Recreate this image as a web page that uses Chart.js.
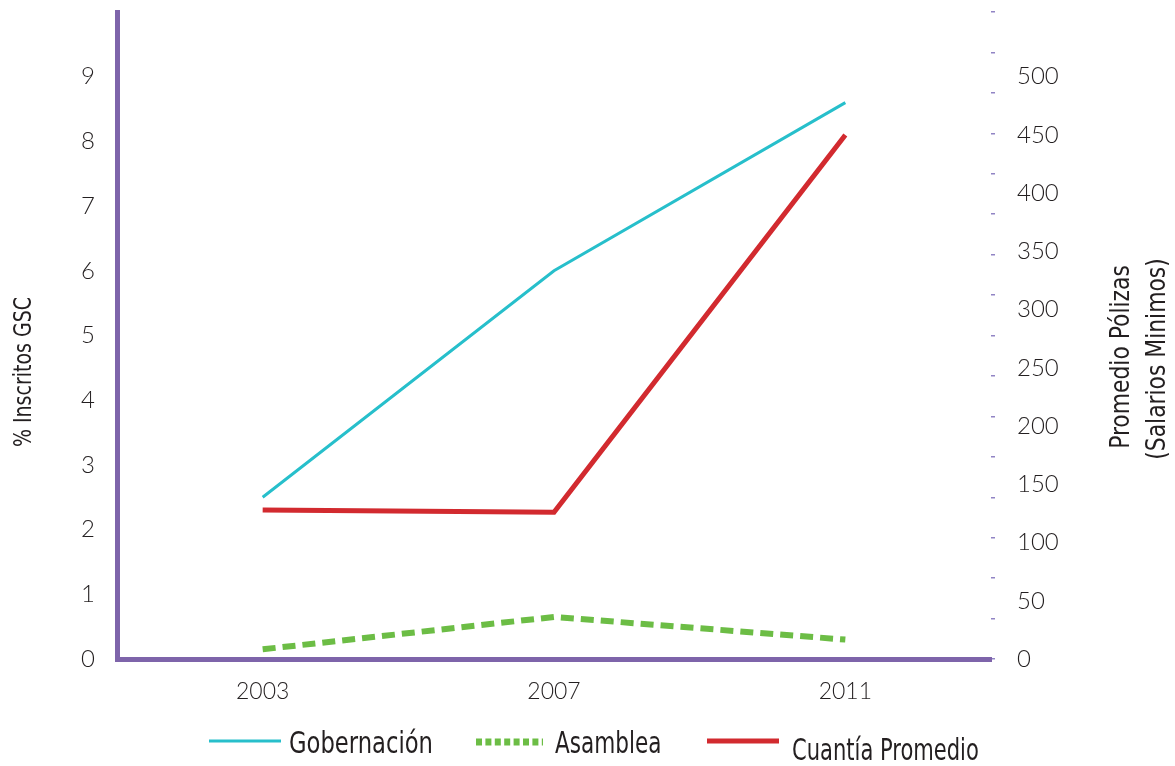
<!DOCTYPE html>
<html>
<head>
<meta charset="utf-8">
<script src="https://cdn.jsdelivr.net/npm/chart.js@4/dist/chart.umd.min.js"></script>
<style>
  html, body { margin: 0; padding: 0; background: #ffffff; }
  #wrap { width: 1175px; height: 766px; position: relative; }
</style>
</head>
<body>
<div id="wrap"><canvas id="c" width="1175" height="766"></canvas></div>
<script>
// ---- data ----
const years = ['2003', '2007', '2011'];
const gobernacion = [2.5, 6.0, 8.6];          // % inscritos (left axis)
const asamblea = [0.15, 0.65, 0.3];           // % inscritos (left axis)
const cuantiaPromedio = [128, 126, 450];      // salarios mínimos (right axis)
const seriesNames = ['Gobernación', 'Asamblea', 'Cuantía Promedio'];
const leftTitle = '% Inscritos GSC';
const rightTitle = ['Promedio Pólizas', '(Salarios Minimos)'];
const leftMax = 10;                 // left scale 0..10, labels 0..9
const rightLabelMax = 500;          // right labels 0..500 line up with left 0..9
const rightStep = 50;

// ---- styles ----
const PURPLE = '#7e64aa';
const MARK = '#9184c4';
const CYAN = '#27bfcb';
const GREEN = '#6cbd45';
const RED = '#d22a2f';
const INK = '#231f20';
const THIN = 'Lato, "Open Sans", sans-serif';
const COND = '"Liberation Sans Narrow", "DejaVu Sans Condensed", "Open Sans", sans-serif';

// draw text squeezed horizontally (along its own baseline)
function squeezed(ctx, text, x, y, sx, rot) {
  ctx.save();
  ctx.translate(x, y);
  if (rot) ctx.rotate(rot);
  ctx.scale(sx, 1);
  ctx.fillText(text, 0, 0);
  ctx.restore();
}

// titles and legend drawn on the canvas
const decorations = {
  id: 'decorations',
  afterDraw(chart) {
    const ctx = chart.ctx;
    ctx.save();
    ctx.fillStyle = INK;
    ctx.textAlign = 'center';
    ctx.textBaseline = 'middle';

    // left axis title
    ctx.font = '24px ' + COND;
    squeezed(ctx, leftTitle, 25, 372, 0.88, -Math.PI / 2);

    // right axis title, two lines reading upward
    ctx.font = '27px ' + COND;
    squeezed(ctx, rightTitle[0], 1122, 357, 0.9, -Math.PI / 2);
    squeezed(ctx, rightTitle[1], 1158, 359, 0.9, -Math.PI / 2);

    // legend
    const ds = chart.data.datasets;
    const items = [
      { x1: 209, x2: 281, y: 741, tx: 289, ty: 753, w: 3, dash: [], sx: 0.84 },
      { x1: 476, x2: 543, y: 742, tx: 555, ty: 753, w: 7, dash: [6, 3.4], sx: 0.8 },
      { x1: 707, x2: 779, y: 741, tx: 792, ty: 760, w: 5, dash: [], sx: 0.78 }
    ];
    ctx.font = '30px ' + COND;
    ctx.textAlign = 'left';
    ctx.textBaseline = 'alphabetic';
    items.forEach((it, i) => {
      ctx.save();
      ctx.strokeStyle = ds[i].borderColor;
      ctx.lineWidth = it.w;
      ctx.lineCap = 'butt';
      ctx.setLineDash(it.dash);
      ctx.beginPath();
      ctx.moveTo(it.x1, it.y);
      ctx.lineTo(it.x2, it.y);
      ctx.stroke();
      ctx.restore();
      ctx.fillStyle = INK;
      squeezed(ctx, ds[i].label, it.tx, it.ty, it.sx, 0);
    });
    ctx.restore();
  }
};

// keep the plot area fixed: no extra room for overhanging tick labels
function noOverhang(s) {
  s.paddingTop = 0;
  s.paddingBottom = 0;
  s.paddingLeft = 0;
  s.paddingRight = 0;
}

new Chart(document.getElementById('c'), {
  type: 'line',
  data: {
    labels: years,
    datasets: [
      { label: seriesNames[0], data: gobernacion, yAxisID: 'y',
        borderColor: CYAN, borderWidth: 3, pointRadius: 0, tension: 0 },
      { label: seriesNames[1], data: asamblea, yAxisID: 'y',
        borderColor: GREEN, borderWidth: 6, borderDash: [13, 7], pointRadius: 0, tension: 0 },
      { label: seriesNames[2], data: cuantiaPromedio, yAxisID: 'y2',
        borderColor: RED, borderWidth: 5, pointRadius: 0, tension: 0 }
    ]
  },
  options: {
    responsive: false,
    animation: false,
    devicePixelRatio: 1,
    layout: { padding: { top: 12, left: 0, right: 0, bottom: 0 } },
    plugins: { legend: { display: false }, tooltip: { enabled: false } },
    scales: {
      x: {
        type: 'category',
        offset: true,
        grid: { display: false, drawTicks: false },
        border: { display: true, color: PURPLE, width: 5 },
        ticks: { color: INK, font: { family: THIN, size: 23, weight: 300 }, padding: 19 },
        afterFit(s) { s.height = 107; noOverhang(s); }
      },
      y: {
        position: 'left',
        min: 0, max: leftMax,
        grid: { display: false, drawTicks: false },
        border: { display: true, color: PURPLE, width: 5 },
        ticks: {
          stepSize: 1,
          color: INK,
          font: { family: THIN, size: 24, weight: 300 },
          padding: 22,
          callback: v => (v < leftMax ? String(v) : '')
        },
        afterFit(s) { s.width = 117; noOverhang(s); }
      },
      marks: {
        position: 'right',
        weight: 0,
        min: 0, max: 16,
        grid: { display: true, drawOnChartArea: false, drawTicks: true, tickLength: 4, color: MARK, lineWidth: 1.5 },
        border: { display: false },
        ticks: { display: false, stepSize: 1 },
        afterFit(s) { noOverhang(s); }
      },
      y2: {
        position: 'right',
        weight: 1,
        min: 0, max: rightLabelMax * leftMax / 9,
        grid: { display: false, drawTicks: false },
        border: { display: false },
        ticks: {
          stepSize: rightStep,
          color: INK,
          font: { family: THIN, size: 24, weight: 300 },
          padding: 22,
          callback: v => (v <= rightLabelMax ? String(v) : '')
        },
        afterFit(s) { s.width = 180; noOverhang(s); }
      }
    }
  },
  plugins: [decorations]
});
</script>
</body>
</html>
